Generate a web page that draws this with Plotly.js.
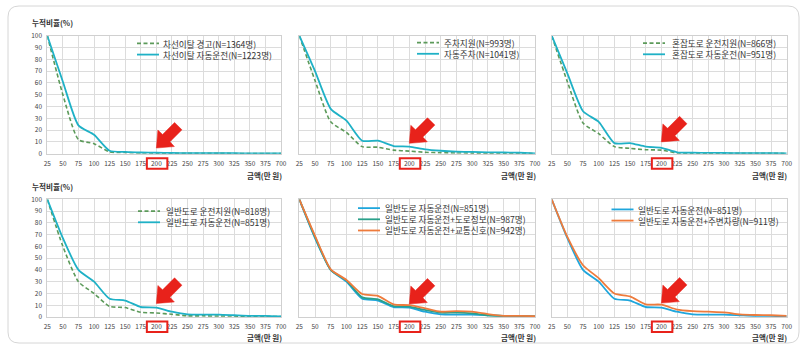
<!DOCTYPE html>
<html><head><meta charset="utf-8">
<script src="https://cdn.plot.ly/plotly-3.0.1.min.js"></script>
<style>html,body{margin:0;padding:0;background:#fff}#chart{width:806px;height:346px}</style>
</head><body><div id="chart"></div>
<script>
// ---- data ----
const categories = ['25','50','75','100','125','150','175','200','225','250','275','300','325','350','375','700'];
const yTicks = [0,10,20,30,40,50,60,70,80,90,100];

const laneWarn1364   = [100, 50, 12, 8.5, 1.5, 1, 0.6, 0.5, 0.4, 0.3, 0.3, 0.3, 0.2, 0.2, 0.2, 0.1];
const laneAuto1223   = [100, 61, 24, 16, 2.5, 1.5, 1, 0.8, 0.6, 0.5, 0.5, 0.4, 0.4, 0.3, 0.3, 0.2];
const parkAssist993  = [100, 62, 27, 18, 6, 5.5, 3, 2.2, 1.2, 0.8, 0.6, 0.5, 0.4, 0.3, 0.3, 0.2];
const autoPark1041   = [100, 70, 38, 28, 11, 11, 6.5, 6, 3.7, 2.5, 1.8, 1.5, 1.2, 1, 0.8, 0.3];
const congAssist866  = [100, 61, 26, 17, 6, 4.5, 3.4, 3, 0.6, 0.5, 0.4, 0.4, 0.3, 0.3, 0.3, 0.2];
const congAuto951    = [100, 68, 36, 27, 9, 9, 6, 5, 1.2, 0.8, 0.7, 0.6, 0.5, 0.5, 0.5, 0.3];
const genAssist818   = [100, 60, 30, 20, 9, 8, 4, 3.4, 2.3, 1, 1, 0.8, 0.8, 0.7, 0.6, 0.3];
const genAuto851     = [100, 67, 40, 30, 15.5, 14, 8.5, 8, 4.5, 2.2, 2, 2, 1.5, 1, 1, 0.5];
const genRoadInfo987 = [100, 68, 40, 31, 16.7, 15, 9.3, 8.8, 6, 3.7, 3.7, 3, 1.5, 1, 1, 0.5];
const genSignal942   = [100, 69, 40.5, 31.5, 19.5, 18, 10.8, 10, 7.4, 4.5, 5, 4.5, 2.5, 1, 1, 0.7];
const genNearby911   = [100, 68, 44, 33, 20, 17.5, 10.8, 10.5, 6.3, 5, 4.5, 4, 2.3, 1.7, 1.5, 1];

const labels = {
  laneWarn: '차선이탈 경고(N=1364명)', laneAuto: '차선이탈 자동운전(N=1223명)',
  parkAssist: '주차지원(N=993명)', autoPark: '자동주차(N=1041명)',
  congAssist: '혼잡도로 운전지원(N=866명)', congAuto: '혼잡도로 자동운전(N=951명)',
  genAssist: '일반도로 운전지원(N=818명)', genAuto: '일반도로 자동운전(N=851명)',
  genRoad: '일반도로 자동운전+도로정보(N=987명)', genSignal: '일반도로 자동운전+교통신호(N=942명)',
  genNearby: '일반도로 자동운전+주변차량(N=911명)'
};
const yTitle = '누적비율(%)';
const xTitle = '금액(만 원)';

// ---- styles ----
const GREEN_D = '#5c9a5a', TEAL = '#1fb1c6', BLUE = '#1fa6dc', GREEN = '#2aa08a', ORANGE = '#ee7b3c', RED = '#e8221b';
const FONT = 'Noto Sans CJK KR, Noto Sans, sans-serif';
const W = 806, H = 346;
const px = x => x / W, py = y => 1 - y / H;
const cols = [[47.3, 281], [299.3, 535], [551.7, 786.7]];
const rows = [[35.7, 153.7], [199.3, 317]];
const LEG_FS = 8.6, LINE_H = LEG_FS * 1.3;

const panels = [
  {series: [[labels.laneWarn, laneWarn1364, GREEN_D, 'dash'], [labels.laneAuto, laneAuto1223, TEAL, 'solid']],
   leg: {sx: 137, tx: 162, mid: 49, bg: [133, 37, 60]}, arrowY: 4.8},
  {series: [[labels.parkAssist, parkAssist993, GREEN_D, 'dash'], [labels.autoPark, autoPark1041, TEAL, 'solid']],
   leg: {sx: 417, tx: 442.5, mid: 48.2, bg: [413, 37, 59]}, arrowY: 8.8},
  {series: [[labels.congAssist, congAssist866, GREEN_D, 'dash'], [labels.congAuto, congAuto951, TEAL, 'solid']],
   leg: {sx: 643, tx: 670.5, mid: 48.7, bg: [639, 37, 60]}, arrowY: 10},
  {series: [[labels.genAssist, genAssist818, GREEN_D, 'dash'], [labels.genAuto, genAuto851, TEAL, 'solid']],
   leg: {sx: 138, tx: 164.5, mid: 216.7, bg: [134, 205, 228]}, arrowY: 11.5},
  {series: [[labels.genAuto, genAuto851, BLUE, 'solid'], [labels.genRoad, genRoadInfo987, GREEN, 'solid'], [labels.genSignal, genSignal942, ORANGE, 'solid']],
   leg: {sx: 358, tx: 384, mid: 219.3, bg: [354, 202, 237]}, arrowY: 11},
  {series: [[labels.genAuto, genAuto851, BLUE, 'solid'], [labels.genNearby, genNearby911, ORANGE, 'solid']],
   leg: {sx: 611.5, tx: 637, mid: 215, bg: [607, 202, 228]}, arrowY: 11.8}
];

const traces = [], shapes = [], annotations = [];
const layout = {
  width: W, height: H, margin: {l: 0, r: 0, t: 0, b: 0},
  paper_bgcolor: '#fff', plot_bgcolor: '#fff', showlegend: false,
  font: {family: FONT, size: 6.5, color: '#444'}
};

const arrowPath = 'M0,0 L18,1.5 L13.6,6.2 L25.6,18.2 L18.2,25.6 L6.2,13.6 L1.5,18 Z';

panels.forEach((p, i) => {
  const n = i + 1, r = Math.floor(i / 3), c = i % 3;
  const xa = 'x' + (n === 1 ? '' : n), ya = 'y' + (n === 1 ? '' : n);
  const [x0, x1] = cols[c], [yt, yb] = rows[r];
  layout['xaxis' + (n === 1 ? '' : n)] = {
    domain: [px(x0), px(x1)], anchor: ya, type: 'category', categoryarray: categories,
    range: [0, categories.length - 1], fixedrange: true,
    showgrid: true, gridcolor: '#dcdcdc', gridwidth: 1,
    showline: true, linecolor: '#d0d0d0', linewidth: 1, mirror: true,
    ticks: 'outside', ticklen: 3, tickcolor: 'rgba(0,0,0,0)',
    tickfont: {family: FONT, size: 6.5, color: '#444'}, tickangle: 0
  };
  layout['yaxis' + (n === 1 ? '' : n)] = {
    domain: [py(yb), py(yt)], anchor: xa, range: [0, 100], fixedrange: true,
    tickvals: yTicks, showticklabels: c === 0,
    showgrid: true, gridcolor: '#dcdcdc', gridwidth: 1, zeroline: false,
    showline: true, linecolor: '#d0d0d0', linewidth: 1, mirror: true,
    ticks: 'outside', ticklen: 3, tickcolor: 'rgba(0,0,0,0)',
    tickfont: {family: FONT, size: 6.5, color: '#444'}
  };
  p.series.forEach(([name, vals, color, dash]) => {
    traces.push({
      x: categories, y: vals, xaxis: xa, yaxis: ya, name: name, type: 'scatter', mode: 'lines',
      line: {color: color, width: dash === 'dash' ? 1.6 : 1.8, dash: dash === 'dash' ? '4px,2.5px' : 'solid', shape: 'spline', smoothing: 0.6},
      hoverinfo: 'skip'
    });
  });
  // legend (drawn manually to match the compact spacing of the reference)
  const L = p.leg, ns = p.series.length;
  shapes.push({type: 'rect', xref: 'paper', yref: 'paper', layer: 'between',
    x0: px(L.bg[0]), x1: px(x1 - 1), y0: py(L.bg[2]), y1: py(L.bg[1]),
    fillcolor: '#fff', line: {width: 0}});
  p.series.forEach(([name, vals, color, dash], k) => {
    const yy = L.mid + (k - (ns - 1) / 2) * LINE_H;
    shapes.push({type: 'line', xref: 'paper', yref: 'paper', layer: 'above',
      x0: px(L.sx), x1: px(L.sx + 22), y0: py(yy), y1: py(yy),
      line: {color: color, width: 1.8, dash: dash === 'dash' ? '4px,2.5px' : 'solid'}});
  });
  annotations.push({xref: 'paper', yref: 'paper', x: px(L.tx), y: py(L.mid), xanchor: 'left', yanchor: 'middle',
    align: 'left', borderpad: 0, text: p.series.map(s => s[0]).join('<br>'), showarrow: false,
    font: {family: FONT, size: LEG_FS, color: '#333'}});
  // red marker box around the "200" tick label (paper coords so it is not clipped)
  const step = (x1 - x0) / (categories.length - 1);
  const cx = x0 + categories.indexOf('200') * step + 0.5;
  shapes.push({type: 'rect', xref: 'paper', yref: 'paper',
    x0: px(cx - 10), x1: px(cx + 10.5), y0: py(yb + 15), y1: py(yb + 4.5),
    line: {color: RED, width: 2}, fillcolor: 'rgba(0,0,0,0)', layer: 'above'});
  // red arrow pointing at 200
  shapes.push({type: 'path', xref: xa, yref: ya, xsizemode: 'pixel', ysizemode: 'pixel',
    xanchor: 7, yanchor: p.arrowY, path: arrowPath,
    fillcolor: RED, line: {color: RED, width: 0.5}, layer: 'above'});
  // x axis title
  annotations.push({xref: 'paper', yref: 'paper', x: px(x1 - 17), y: py(r === 0 ? 175 : 337.5),
    xanchor: 'center', yanchor: 'middle', text: xTitle, showarrow: false,
    font: {family: FONT, size: 7.5, color: '#333', weight: 600}});
  if (c === 0) {
    annotations.push({xref: 'paper', yref: 'paper', x: px(30), y: py(r === 0 ? 22 : 186),
      xanchor: 'left', yanchor: 'middle', text: yTitle, showarrow: false,
      font: {family: FONT, size: 7.6, color: '#333', weight: 600}});
  }
});

// outer rounded frame
(function () {
  const l = 8, t = 6, rr = 799, b = 343, rad = 11;
  const P = (x, y) => px(x) + ',' + py(y);
  const path = 'M' + P(l + rad, t) + ' L' + P(rr - rad, t) + ' Q' + P(rr, t) + ' ' + P(rr, t + rad) +
    ' L' + P(rr, b - rad) + ' Q' + P(rr, b) + ' ' + P(rr - rad, b) +
    ' L' + P(l + rad, b) + ' Q' + P(l, b) + ' ' + P(l, b - rad) +
    ' L' + P(l, t + rad) + ' Q' + P(l, t) + ' ' + P(l + rad, t) + ' Z';
  shapes.push({type: 'path', xref: 'paper', yref: 'paper', path: path, layer: 'below',
    line: {color: '#d6d6d6', width: 1}, fillcolor: 'rgba(0,0,0,0)'});
})();

layout.shapes = shapes;
layout.annotations = annotations;
Plotly.newPlot('chart', traces, layout, {staticPlot: true, displayModeBar: false});
</script>
</body></html>
